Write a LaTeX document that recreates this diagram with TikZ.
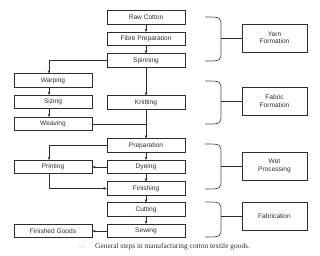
\documentclass[tikz,border=0pt]{standalone}
\usepackage{fontspec}
\setmainfont{Liberation Serif}
\setsansfont{Liberation Sans}
\usetikzlibrary{arrows.meta,positioning,calc}
\definecolor{ink}{RGB}{45,45,45}
\definecolor{haze}{RGB}{190,190,190}
\tikzset{
  >={Stealth[length=3.2pt,width=2.6pt]},
  stepbox/.style={draw=ink,line width=0.55pt,minimum width=78pt,minimum height=13.5pt,
    inner sep=0pt,font=\sffamily\fontsize{6.6}{7.5}\selectfont,text=ink},
  groupbox/.style={stepbox,minimum width=65pt,minimum height=28pt,align=center},
  flow/.style={->,draw=ink,line width=0.5pt},
  link/.style={draw=ink,line width=0.5pt},
  bracket/.style={draw=ink!85,line width=0.7pt},
}
\begin{document}
\begin{tikzpicture}[x=1pt,y=-1pt]
  \useasboundingbox (0,0) rectangle (320,256);
  % main column
  \node[stepbox] (raw) at (146,17.5) {Raw Cotton};
  \node[stepbox] (fibre) at (146,39) {Fibre Preparation};
  \node[stepbox] (spin) at (146,60.5) {Spinning};
  \node[stepbox] (knit) at (146,102.5) {Knitting};
  \node[stepbox] (prep) at (146,145.5) {Preparation};
  \node[stepbox] (dye) at (146,167) {Dyeing};
  \node[stepbox] (finish) at (146,188.5) {Finishing};
  \node[stepbox] (cut) at (146,209.5) {Cutting};
  \node[stepbox] (sew) at (146,231) {Sewing};
  % side column
  \node[stepbox] (warp) at (53,80.5) {Warping};
  \node[stepbox] (size) at (53,102) {Sizing};
  \node[stepbox] (weave) at (53,124) {Weaving};
  \node[stepbox] (print) at (53,167) {Printing};
  \node[stepbox] (goods) at (53,231) {Finished Goods};
  % groups
  \node[groupbox] (yarn) at (274.5,38) {Yarn\\Formation};
  \node[groupbox] (fabric) at (274.5,101) {Fabric\\Formation};
  \node[groupbox] (wet) at (274.5,166) {Wet\\Processing};
  \node[groupbox] (fab) at (274.5,216) {Fabrication};
  % flows
  \draw[flow] (raw) -- (fibre);
  \draw[flow] (fibre) -- (spin);
  \draw[flow] (spin) -- (knit);
  \draw[flow] (spin.west) -| ([xshift=-4pt]warp.north);
  \draw[flow] ([xshift=-4pt]warp.south) -- ([xshift=-4pt]size.north);
  \draw[flow] ([xshift=-4pt]size.south) -- ([xshift=-4pt]weave.north);
  \draw[link] (weave.east) -- (knit.south |- weave.east);
  \draw[flow] (knit) -- (prep);
  \draw[flow] (prep.west) -| ([xshift=-4pt]print.north);
  \draw[flow] (prep) -- (dye);
  \draw[flow] (dye) -- (print);
  \draw[flow] ([xshift=-4pt]print.south) |- (finish.west);
  \draw[flow] (dye) -- (finish);
  \draw[flow] (finish) -- (cut);
  \draw[flow] (cut) -- (sew);
  \draw[flow] (sew) -- (goods);
  % brackets
  \coordinate (tip) at (221,0);
  \foreach \ya/\yb/\grp in {17/61/yarn,81/124/fabric,144/189/wet,202/237/fab}{
    \draw[bracket] (205,\ya) .. controls (221,\ya) .. (221,\ya+10)
      -- (221,\yb-10) .. controls (221,\yb) .. (205,\yb);
    \draw[link] (\grp.west -| tip) -- (\grp.west);
  }
  % caption
  \node[text=haze,font=\fontsize{5}{6}\selectfont] (num) at (82,247) {1.1};
  \node[anchor=west,text=ink,font=\fontsize{7.4}{8}\selectfont,inner sep=0pt] (cap) at (95,247)
    {General steps in manufacturing cotton textile goods.};
\end{tikzpicture}
\end{document}
